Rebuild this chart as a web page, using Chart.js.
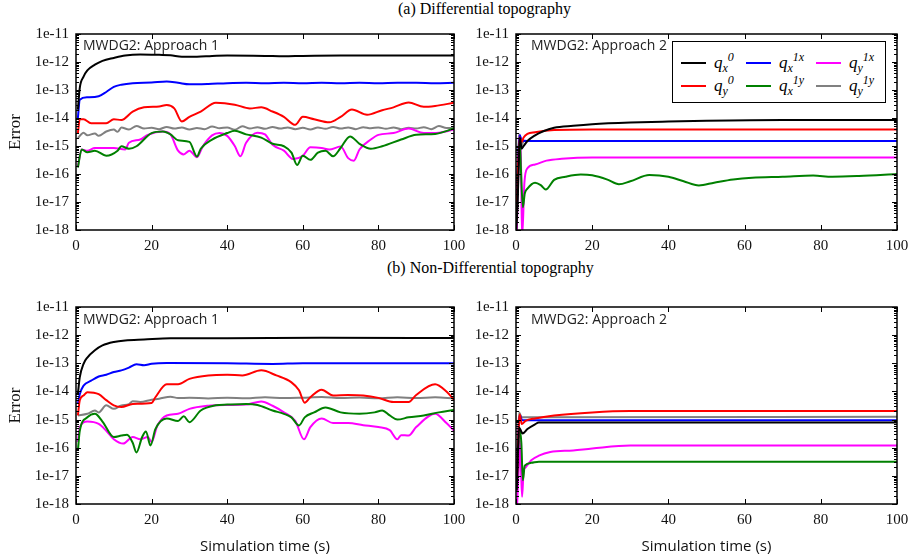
<!DOCTYPE html>
<html>
<head>
<meta charset="utf-8">
<script src="https://cdn.jsdelivr.net/npm/chart.js@4.4.1/dist/chart.umd.min.js"></script>
<style>
  body { margin: 0; background: #fff; }
  #page { position: relative; width: 909px; height: 560px; overflow: hidden; }
  canvas { position: absolute; }
  .title { position: absolute; font-family: "Liberation Serif", serif; font-size: 16px; color: #000; white-space: nowrap; }
  .tag { position: absolute; font-family: "Open Sans", sans-serif; font-size: 14px; color: #222; white-space: nowrap; }
  #legend { position: absolute; left: 672px; top: 41px; width: 214px; height: 62px; border: 1px solid #000;
    background: #fff; display: grid; grid-template-columns: 65px 70px 70px; grid-template-rows: 23px 23px;
    grid-auto-flow: column; padding: 9px 0 0 8px; box-sizing: border-box; z-index: 2; }
  .item { display: flex; align-items: center; }
  .item .sw { display: inline-block; width: 25px; height: 2px; margin-right: 8px; }
  .item .lab { font-family: "Liberation Serif", serif; font-style: italic; font-size: 17px; line-height: 17px; }
  .item sub, .item sup { font-size: 12px; line-height: 0; }
</style>
</head>
<body>
<div id="page">
  <div class="title" style="left:398px; top:0px;">(a) Differential topography</div>
  <div class="title" style="left:387px; top:259px;">(b) Non-Differential topography</div>
  <canvas id="pA2" width="449" height="236" style="left:460px; top:24px;"></canvas>
  <canvas id="pB2" width="449" height="264" style="left:460px; top:296px;"></canvas>
  <canvas id="pA1" width="475" height="236" style="left:0; top:24px;"></canvas>
  <canvas id="pB1" width="475" height="264" style="left:0; top:296px;"></canvas>
  <div class="tag" style="left:83px; top:35px;">MWDG2: Approach 1</div>
  <div class="tag" style="left:531px; top:35px;">MWDG2: Approach 2</div>
  <div class="tag" style="left:83px; top:309px;">MWDG2: Approach 1</div>
  <div class="tag" style="left:531px; top:309px;">MWDG2: Approach 2</div>
  <div id="legend"></div>
</div>
<script>
// Series order: qx0, qy0, qx1x, qx1y, qy1x, qy1y
const seriesSub = ["x", "y", "x", "x", "y", "y"];
const seriesSup = ["0", "0", "1x", "1y", "1x", "1y"];
const seriesColors = ["#000000", "#ff0000", "#0000ff", "#008000", "#ff00ff", "#808080"];

const xTicks = [0, 20, 40, 60, 80, 100];
const yTickValues = [1e-18, 1e-17, 1e-16, 1e-15, 1e-14, 1e-13, 1e-12, 1e-11];
const yTickLabels = ["1e-18", "1e-17", "1e-16", "1e-15", "1e-14", "1e-13", "1e-12", "1e-11"];

// (a) Differential topography, Approach 1  -- [time (s), error]
const A1_qx0 = [[0.5,2e-14],[1,1.2e-13],[2,3e-13],[3,5e-13],[5,8e-13],[7,1.1e-12],[10,1.4e-12],[13,1.7e-12],[17,1.85e-12],[22,1.8e-12],[25,1.75e-12],[28,1.55e-12],[32,1.55e-12],[36,1.65e-12],[40,1.7e-12],[50,1.65e-12],[55,1.6e-12],[60,1.65e-12],[70,1.7e-12],[80,1.7e-12],[90,1.7e-12],[100,1.7e-12]];
const A1_qy0 = [[0.5,2.9e-15],[1,9e-15],[2,9e-15],[4,6.5e-15],[8,6.5e-15],[10,9e-15],[12,8.5e-15],[15,1.7e-14],[18,2.4e-14],[22,2.6e-14],[24,2.9e-14],[26,2.2e-14],[28,7.5e-15],[30,1.1e-14],[33,1.7e-14],[37,3.5e-14],[42,3e-14],[46,2.2e-14],[49,2.4e-14],[52,1.7e-14],[55,1.1e-14],[58,5.7e-15],[60,1.1e-14],[63,9e-15],[67,7e-15],[70,1.1e-14],[73,2e-14],[77,1.3e-14],[81,1.9e-14],[84,2.4e-14],[88,3.6e-14],[92,2.5e-14],[95,2.7e-14],[100,3.5e-14]];
const A1_qx1x = [[0.5,1e-14],[1,4.5e-14],[3,5.5e-14],[6,6e-14],[8,8.5e-14],[10,1.3e-13],[12,1.55e-13],[15,1.75e-13],[20,1.85e-13],[24,2e-13],[27,1.8e-13],[30,1.6e-13],[35,1.65e-13],[40,1.75e-13],[45,1.8e-13],[50,1.75e-13],[55,1.8e-13],[60,1.75e-13],[65,1.8e-13],[70,1.75e-13],[75,1.8e-13],[80,1.75e-13],[85,1.8e-13],[90,1.8e-13],[95,1.75e-13],[100,1.8e-13]];
const A1_qx1y = [[0.5,1.7e-16],[1.5,7.5e-16],[3,6e-16],[5,6.8e-16],[8,4.5e-16],[11,6.8e-16],[12,9.8e-16],[14,8e-16],[16,9.8e-16],[20,2.9e-15],[23,3.3e-15],[25,2.6e-15],[27,1.6e-15],[30,1.4e-15],[32,4.2e-16],[33,8e-16],[36,1.7e-15],[40,2.9e-15],[42,3.5e-15],[45,2.6e-15],[49,2e-15],[52,1.2e-15],[55,9.8e-16],[57,5.8e-16],[58.5,2.1e-16],[60,4.5e-16],[62,3.2e-16],[64,5.8e-16],[66,6.8e-16],[68,4.3e-16],[70,8.5e-16],[72.5,2.2e-15],[75,1.2e-15],[78,8e-16],[81,9.8e-16],[86,1.7e-15],[90,2.5e-15],[95,2.7e-15],[100,4.2e-15]];
const A1_qy1x = [[0.5,1.9e-16],[1.5,7.5e-16],[3,6.8e-16],[5,8.5e-16],[10,8.5e-16],[13,7.5e-16],[14,1.3e-15],[17,1.7e-15],[19,2.5e-15],[23,3.3e-15],[25,2.6e-15],[27,6.8e-16],[28.5,5e-16],[30,6.8e-16],[32,4e-16],[33.5,9.5e-16],[36,2.4e-15],[38,2.9e-15],[40,2.3e-15],[42,1e-15],[43.5,4.3e-16],[45,1.3e-15],[48,3e-15],[50,2.6e-15],[52,1.1e-15],[55,6.8e-16],[57.5,3.4e-16],[60,4.5e-16],[62,9e-16],[65,8.5e-16],[67,7.5e-16],[70,9.5e-16],[72,3.7e-16],[73.5,3e-16],[75,7.5e-16],[78,1.7e-15],[80,2.5e-15],[84,2.9e-15],[88,4.2e-15],[92,2.9e-15],[96,3e-15],[100,3.9e-15]];
const A1_qy1y = [[0.5,1.9e-15],[2,3e-15],[3,2.4e-15],[5,2.8e-15],[6,2.3e-15],[8,3.3e-15],[10,3.9e-15],[11,3.2e-15],[12,4.6e-15],[14,3.9e-15],[16,5.2e-15],[18,4.2e-15],[20,4.5e-15],[22,4e-15],[24,4.8e-15],[26,4.2e-15],[28,4.6e-15],[30,3.9e-15],[32,4.4e-15],[34,4e-15],[36,5e-15],[38,4.3e-15],[40,4.6e-15],[42,3.8e-15],[44,5.1e-15],[46,4.2e-15],[48,4.7e-15],[50,4.1e-15],[52,4.8e-15],[54,4.2e-15],[56,4.6e-15],[58,4e-15],[60,4.5e-15],[62,3.9e-15],[64,4.6e-15],[66,4.1e-15],[68,4.8e-15],[70,4.2e-15],[72,4.6e-15],[74,4e-15],[76,4.7e-15],[78,4.3e-15],[80,4.6e-15],[82,4.1e-15],[84,4.6e-15],[86,4e-15],[88,4.5e-15],[90,4.2e-15],[92,4.7e-15],[94,4e-15],[96,5.2e-15],[98,4.4e-15],[100,4.4e-15]];

// (a) Differential topography, Approach 2
const A2_qx0 = [[0.1,1e-18],[0.5,2e-17],[0.8,5e-16],[1,2e-15],[1.5,8e-16],[2,1e-15],[3,1.5e-15],[5,2.4e-15],[7,3.3e-15],[10,4.5e-15],[15,5.3e-15],[20,6e-15],[30,6.9e-15],[40,7.5e-15],[50,8e-15],[70,8.5e-15],[100,8.5e-15]];
const A2_qy0 = [[0.1,2.4e-18],[0.5,1.4e-16],[1,2e-15],[1.5,1.4e-15],[2,2e-15],[3,2.7e-15],[5,3.1e-15],[10,3.7e-15],[20,3.9e-15],[100,3.9e-15]];
const A2_qx1x = [[0.1,1.2e-17],[0.6,5.5e-16],[1,2.4e-15],[1.5,1.6e-15],[3,1.5e-15],[100,1.5e-15]];
const A2_qx1y = [[0.2,2e-18],[0.8,9e-16],[1,1.5e-15],[1.3,1.4e-16],[1.8,6.5e-18],[2.3,2e-17],[3,3e-17],[5,4.9e-17],[6.5,4e-17],[7.8,2.8e-17],[10,6.2e-17],[13,8e-17],[17,9.6e-17],[20,9e-17],[24,6.3e-17],[27,4.3e-17],[30,5.5e-17],[35,9.2e-17],[40,8e-17],[44,5.5e-17],[48,3.9e-17],[52,4.9e-17],[57,6.4e-17],[62,7.4e-17],[70,8e-17],[78,8.8e-17],[83,8e-17],[90,8.5e-17],[100,1e-16]];
const A2_qy1x = [[0.2,8e-19],[0.5,3e-17],[0.8,1.2e-15],[1,2.4e-15],[1.3,3e-16],[1.6,5e-19],[2.2,4.8e-17],[3,1.6e-16],[5,2.2e-16],[8,3e-16],[12,3.5e-16],[20,3.9e-16],[100,3.9e-16]];
const A2_qy1y = [[0.2,1e-17],[0.5,1.5e-16],[0.8,2.4e-15],[1,2.6e-15],[1.3,9e-16],[2,1.5e-15],[100,1.5e-15]];

// (b) Non-Differential topography, Approach 1
const B1_qx0 = [[0.5,8.3e-15],[1,3.2e-14],[2,9.6e-14],[3,1.6e-13],[5,2.9e-13],[7,4.3e-13],[10,5.7e-13],[13,6.5e-13],[18,7e-13],[25,7.7e-13],[40,7.8e-13],[65,8e-13],[100,7.9e-13]];
const B1_qy0 = [[0.5,1.4e-15],[1,4.9e-15],[2,7.2e-15],[3,9.4e-15],[6,8e-15],[8,4.9e-15],[10,3.2e-15],[12,2.8e-15],[15,3.6e-15],[20,3.9e-15],[21,6.2e-15],[24,1.8e-14],[27,1.8e-14],[30,2.8e-14],[35,3.7e-14],[40,3.9e-14],[44,3.7e-14],[49,5.6e-14],[53,3.7e-14],[57,2.1e-14],[59,1.1e-14],[60.5,4e-15],[62,6.2e-15],[65,1.15e-14],[68,7.2e-15],[72,7.5e-15],[76,7.2e-15],[80,5.9e-15],[84,4.2e-15],[88,4.2e-15],[90,7.5e-15],[95,1.8e-14],[98,1e-14],[100,5e-15]];
const B1_qx1x = [[0.5,3.6e-15],[1,8e-15],[2,1.6e-14],[4,2.4e-14],[6,3.4e-14],[8,3.9e-14],[10,4.9e-14],[12,5.6e-14],[14,7e-14],[16,9.2e-14],[18,8.5e-14],[20,9.6e-14],[24,1.02e-13],[40,1e-13],[52,9.5e-14],[60,1e-13],[80,1e-13],[100,1e-13]];
const B1_qx1y = [[0.5,7.9e-17],[1,4e-16],[3,1.2e-15],[5,1.6e-15],[7,8.5e-16],[10,2.4e-16],[12,2.7e-16],[13.5,2.9e-16],[15,1.5e-16],[16,6.8e-17],[17.5,2.4e-16],[18.5,3.8e-16],[19.7,1.2e-16],[21,4.6e-16],[24,1.1e-15],[27,8.9e-16],[28.5,1.3e-15],[30,8.1e-16],[33,2.1e-15],[37,3.2e-15],[40,3.4e-15],[45,3.6e-15],[48,3.3e-15],[52,2.1e-15],[55,1.6e-15],[57,1.2e-15],[59,6.2e-16],[60.5,1.2e-15],[63,1.8e-15],[66,2.7e-15],[70,1.8e-15],[75,1.6e-15],[79,1.8e-15],[81,2.1e-15],[83,1.4e-15],[85,1e-15],[88,1.2e-15],[92,1.4e-15],[96,1.8e-15],[100,2.2e-15]];
const B1_qy1x = [[0.5,1.6e-16],[1,5.4e-16],[3,8.5e-16],[6,7e-16],[8,4e-16],[10,2e-16],[12.5,1.4e-16],[15,2.4e-16],[17,2e-16],[19,2.4e-16],[20,1.6e-16],[21.5,6e-16],[24,1.4e-15],[27,1.6e-15],[30,2.4e-15],[35,3.1e-15],[40,3.3e-15],[45,3.4e-15],[49,4.4e-15],[52,3.1e-15],[55,1.8e-15],[58,9e-16],[60.3,2e-16],[62,5.4e-16],[65,1.1e-15],[68,7.5e-16],[72,7.5e-16],[76,6.3e-16],[80,5.4e-16],[83,4.2e-16],[85,2e-16],[86,2.8e-16],[88,2.7e-16],[90,5.4e-16],[95,1.6e-15],[98,7.5e-16],[100,4e-16]];
const B1_qy1y = [[0.5,1.4e-15],[3,1.6e-15],[5,2.1e-15],[6,1.8e-15],[8,3.2e-15],[10,2.4e-15],[12,3.2e-15],[14,3.5e-15],[15,4.5e-15],[17,4.2e-15],[20,5.1e-15],[22,5.5e-15],[25,6.5e-15],[27,5.8e-15],[30,6e-15],[35,5.6e-15],[40,6e-15],[45,5.7e-15],[50,6.2e-15],[55,5.8e-15],[60,6e-15],[65,6.3e-15],[70,5.8e-15],[75,6.1e-15],[80,5.7e-15],[85,6.2e-15],[90,5.8e-15],[95,6.2e-15],[100,5.6e-15]];

// (b) Non-Differential topography, Approach 2
const B2_qx0 = [[0.2,3e-18],[0.8,5.2e-16],[1.3,4e-16],[1.7,3.2e-16],[3,4.6e-16],[5,6.8e-16],[6,7.8e-16],[100,7.8e-16]];
const B2_qy0 = [[0.2,5e-18],[0.8,9e-16],[1,1.5e-15],[1.5,7e-16],[2.5,9e-16],[5,1.1e-15],[10,1.4e-15],[20,1.8e-15],[30,2e-15],[100,2e-15]];
const B2_qx1x = [[0.2,9e-18],[0.8,9e-16],[1.1,1.4e-15],[1.6,9.4e-16],[100,9.4e-16]];
const B2_qx1y = [[0.2,6e-18],[0.8,3e-16],[1,4e-16],[1.4,1.5e-16],[1.8,7e-18],[2.3,2.3e-17],[4,2.9e-17],[6,3.2e-17],[100,3.2e-17]];
const B2_qy1x = [[0.3,1e-18],[0.8,3.5e-17],[1,1.8e-16],[1.3,2e-17],[1.6,1.8e-18],[2,1.5e-17],[2.5,2e-17],[4,3.6e-17],[6,5.2e-17],[9,7e-17],[15,8e-17],[20,9.4e-17],[30,1.2e-16],[100,1.2e-16]];
const B2_qy1y = [[0.2,1e-17],[0.8,1.8e-15],[1,1.6e-15],[1.5,1.2e-15],[100,1.25e-15]];

const serifFont = "'Liberation Serif', serif";

// Frame box plus gnuplot-style inward ticks on all four sides
const frameTicks = {
  id: "frameTicks",
  afterDatasetsDraw(chart) {
    const { ctx, chartArea: a, scales } = chart;
    const x = scales.x, y = scales.y;
    ctx.save();
    ctx.strokeStyle = "#000";
    ctx.lineWidth = 1;
    ctx.beginPath();
    xTicks.forEach((v) => {
      const px = Math.round(x.getPixelForValue(v)) + 0.5;
      ctx.moveTo(px, a.bottom); ctx.lineTo(px, a.bottom - 5);
      ctx.moveTo(px, a.top); ctx.lineTo(px, a.top + 5);
    });
    yTickValues.forEach((v, i) => {
      const py = Math.round(y.getPixelForValue(v)) + 0.5;
      ctx.moveTo(a.left, py); ctx.lineTo(a.left + 5, py);
      ctx.moveTo(a.right, py); ctx.lineTo(a.right - 5, py);
      if (i < yTickValues.length - 1) {
        for (let k = 2; k <= 9; k++) {
          const pm = Math.round(y.getPixelForValue(v * k)) + 0.5;
          ctx.moveTo(a.left, pm); ctx.lineTo(a.left + 3, pm);
          ctx.moveTo(a.right, pm); ctx.lineTo(a.right - 3, pm);
        }
      }
    });
    ctx.stroke();
    ctx.lineWidth = 1.5;
    ctx.strokeRect(a.left, a.top, a.right - a.left, a.bottom - a.top);
    ctx.restore();
  },
};

function makePanel(id, series, opt) {
  const datasets = series.map((pts, i) => ({
    data: pts.map((p) => ({ x: p[0], y: p[1] })),
    borderColor: seriesColors[i],
    borderWidth: 2,
    pointRadius: 0,
    cubicInterpolationMode: "monotone",
    fill: false,
  }));

  return new Chart(document.getElementById(id), {
    type: "line",
    data: { datasets: datasets },
    options: {
      responsive: false,
      animation: false,
      layout: { padding: { top: opt.padTop, right: opt.padRight, left: 0, bottom: 0 } },
      plugins: { legend: { display: false }, tooltip: { enabled: false } },
      scales: {
        x: {
          type: "linear",
          min: 0,
          max: 100,
          grid: { display: false, drawTicks: false },
          border: { display: false },
          afterBuildTicks: (scale) => {
            scale.ticks = xTicks.map((v) => ({ value: v }));
          },
          afterFit: (scale) => {
            scale.height = opt.xHeight;
            scale.paddingLeft = 0;
            scale.paddingRight = 0;
          },
          ticks: {
            padding: 7,
            maxRotation: 0,
            color: "#111",
            font: { family: serifFont, size: 15 },
          },
          title: {
            display: opt.xTitle,
            text: "Simulation time (s)",
            color: "#111",
            font: { family: "'Open Sans', sans-serif", size: 15 },
            padding: { top: 0, bottom: 4 },
          },
        },
        y: {
          type: "logarithmic",
          min: 1e-18,
          max: 1e-11,
          grid: { display: false, drawTicks: false },
          border: { display: false },
          afterBuildTicks: (scale) => {
            scale.ticks = yTickValues.map((v) => ({ value: v }));
          },
          afterFit: (scale) => {
            scale.width = opt.yWidth;
            scale.paddingTop = 0;
            scale.paddingBottom = 0;
          },
          ticks: {
            padding: 7,
            color: "#111",
            font: { family: serifFont, size: 15 },
            callback: (value) => {
              const idx = yTickValues.findIndex((v) => Math.abs(Math.log10(v) - Math.log10(value)) < 1e-6);
              return idx >= 0 ? yTickLabels[idx] : "";
            },
          },
          title: {
            display: opt.yTitle,
            text: "Error",
            color: "#111",
            font: { family: serifFont, size: 17 },
            padding: { top: 5, bottom: 0 },
          },
        },
      },
    },
    plugins: [frameTicks],
  });
}

makePanel("pA1", [A1_qx0, A1_qy0, A1_qx1x, A1_qx1y, A1_qy1x, A1_qy1y],
  { padTop: 10, padRight: 21, yWidth: 76, xHeight: 30, xTitle: false, yTitle: true });
makePanel("pA2", [A2_qx0, A2_qy0, A2_qx1x, A2_qx1y, A2_qy1x, A2_qy1y],
  { padTop: 10, padRight: 12, yWidth: 56, xHeight: 30, xTitle: false, yTitle: false });
makePanel("pB1", [B1_qx0, B1_qy0, B1_qx1x, B1_qx1y, B1_qy1x, B1_qy1y],
  { padTop: 11, padRight: 21, yWidth: 76, xHeight: 56, xTitle: true, yTitle: true });
makePanel("pB2", [B2_qx0, B2_qy0, B2_qx1x, B2_qx1y, B2_qy1x, B2_qy1y],
  { padTop: 11, padRight: 12, yWidth: 56, xHeight: 56, xTitle: true, yTitle: false });

// Legend (top-right panel)
const legendEl = document.getElementById("legend");
seriesColors.forEach((c, i) => {
  const item = document.createElement("div");
  item.className = "item";
  item.innerHTML = '<span class="sw" style="background:' + c + '"></span>' +
    '<span class="lab">q<sub>' + seriesSub[i] + "</sub><sup>" + seriesSup[i] + "</sup></span>";
  legendEl.appendChild(item);
});
</script>
</body>
</html>
